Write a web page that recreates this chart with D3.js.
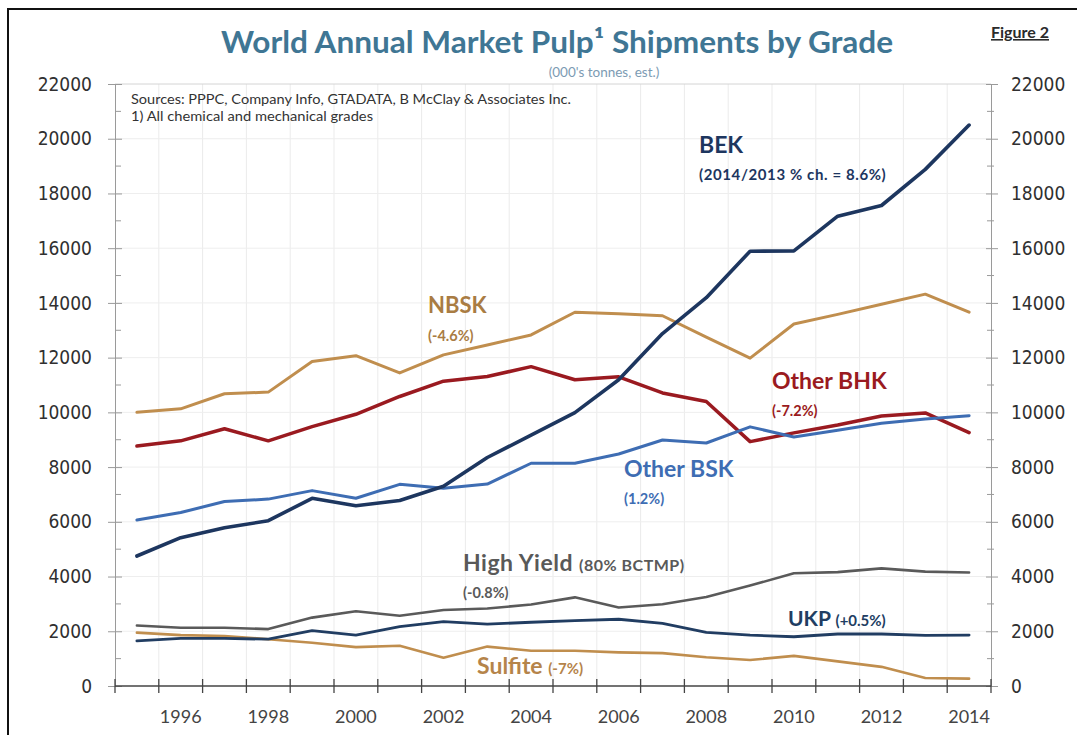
<!DOCTYPE html>
<html>
<head>
<meta charset="utf-8">
<script src="https://cdn.jsdelivr.net/npm/d3@7"></script>
<style>
  html, body { margin: 0; padding: 0; background: #fff; }
  svg { display: block; }
  .lbl { font-family: Lato, "Open Sans", sans-serif; font-weight: 700; }
</style>
</head>
<body>
<svg id="chart" width="1077" height="735"></svg>
<script>
// Shipments in thousands of tonnes, 1995-2014
const years = ["1995","1996","1997","1998","1999","2000","2001","2002","2003","2004",
               "2005","2006","2007","2008","2009","2010","2011","2012","2013","2014"];
const yearLabels = ["1996","1998","2000","2002","2004","2006","2008","2010","2012","2014"];
const yTicks = [0,2000,4000,6000,8000,10000,12000,14000,16000,18000,20000,22000];

const bek     = [4750,5420,5780,6040,6860,6590,6780,7300,8350,9170,9990,11190,12880,14190,15890,15900,17170,17560,18880,20500];
const nbsk    = [10000,10130,10680,10740,11860,12070,11440,12100,12460,12830,13660,13600,13530,12750,11980,13230,13580,13950,14320,13660];
const otherBHK= [8770,8960,9400,8960,9480,9930,10580,11140,11310,11670,11190,11300,10710,10400,8930,9250,9540,9870,9980,9260];
const otherBSK= [6070,6340,6740,6830,7140,6860,7370,7230,7380,8140,8140,8480,8990,8880,9470,9100,9350,9600,9760,9880];
const highYield=[2210,2130,2130,2080,2500,2730,2570,2780,2830,2980,3240,2870,2990,3250,3670,4120,4160,4300,4180,4147];
const ukp     = [1650,1740,1740,1710,2020,1860,2170,2350,2260,2330,2390,2440,2290,1960,1860,1800,1900,1900,1850,1860];
const sulfite = [1950,1860,1830,1710,1580,1420,1470,1030,1440,1290,1290,1230,1200,1050,950,1100,900,700,290,270];

const series = [
  { name: "NBSK",      values: nbsk,      color: "#c08e4e", width: 3 },
  { name: "Other BHK", values: otherBHK,  color: "#9a1a20", width: 3.5 },
  { name: "Other BSK", values: otherBSK,  color: "#3e6db3", width: 3 },
  { name: "High Yield",values: highYield, color: "#5a5a5a", width: 2.6 },
  { name: "Sulfite",   values: sulfite,   color: "#c08e4e", width: 2.6 },
  { name: "UKP",       values: ukp,       color: "#213d62", width: 2.8 },
  { name: "BEK",       values: bek,       color: "#1d365f", width: 3.6 }
];

const svg = d3.select("#chart");
const plotL = 115, plotR = 991, plotT = 84, plotB = 686;

const x = d3.scaleBand().domain(years).range([plotL, plotR]).padding(0);
const y = d3.scaleLinear().domain([0, 22000]).range([plotB, plotT]);
const cx = d => x(d) + x.bandwidth() / 2;

// outer frame
svg.append("rect").attr("x", 8).attr("y", 9).attr("width", 1100).attr("height", 760)
  .attr("fill", "none").attr("stroke", "#111").attr("stroke-width", 2);

// gridlines
const grid = svg.append("g");
years.slice(1).forEach(yr => {
  grid.append("line").attr("x1", x(yr)).attr("x2", x(yr)).attr("y1", plotT).attr("y2", plotB)
    .attr("stroke", "#ebebeb").attr("stroke-width", 1);
});
yTicks.slice(1).forEach(v => {
  grid.append("line").attr("x1", plotL).attr("x2", plotR).attr("y1", y(v)).attr("y2", y(v))
    .attr("stroke", v === 22000 ? "#d4d4d4" : "#eeeeee").attr("stroke-width", 1);
});

const numFont = '"DejaVu Sans Condensed", "DejaVu Sans", sans-serif';

// left value axis
const gL = svg.append("g").attr("transform", `translate(${plotL},0)`)
  .call(d3.axisLeft(y).tickValues(yTicks).tickSize(7).tickPadding(16).tickFormat(d3.format("d")));
gL.select(".domain").attr("stroke", "#9a9a9a");
gL.selectAll(".tick line").attr("x1", 7).attr("stroke", "#9a9a9a");
gL.selectAll(".tick text").attr("font-family", numFont).attr("font-size", 19).attr("fill", "#303030")
  .attr("font-stretch", "condensed");

// right value axis
const gR = svg.append("g").attr("transform", `translate(${plotR},0)`)
  .call(d3.axisRight(y).tickValues(yTicks).tickSize(7).tickPadding(13).tickFormat(d3.format("d")));
gR.select(".domain").attr("stroke", "#9a9a9a");
gR.selectAll(".tick line").attr("x1", -5).attr("stroke", "#9a9a9a");
gR.selectAll(".tick text").attr("font-family", numFont).attr("font-size", 19).attr("fill", "#303030")
  .attr("font-stretch", "condensed");

// minor ticks every 1000
const minors = d3.range(1000, 22000, 2000);
svg.append("g").selectAll("line").data(minors).join("line")
  .attr("x1", plotL).attr("x2", plotL + 6).attr("y1", d => y(d)).attr("y2", d => y(d))
  .attr("stroke", "#9a9a9a");
svg.append("g").selectAll("line").data(minors).join("line")
  .attr("x1", plotR - 4).attr("x2", plotR + 3).attr("y1", d => y(d)).attr("y2", d => y(d))
  .attr("stroke", "#9a9a9a");

// category axis
const gX = svg.append("g").attr("transform", `translate(0,${plotB})`)
  .call(d3.axisBottom(x).tickValues(yearLabels).tickSize(0).tickPadding(24));
gX.select(".domain").remove();
gX.selectAll(".tick text").attr("font-family", "Lato, sans-serif").attr("font-size", 18)
  .attr("fill", "#444");
svg.append("line").attr("x1", plotL).attr("x2", plotR).attr("y1", plotB).attr("y2", plotB)
  .attr("stroke", "#444").attr("stroke-width", 1.5);
const bounds = years.map(yr => x(yr)).concat([plotR]);
svg.append("g").selectAll("line").data(bounds).join("line")
  .attr("x1", d => d).attr("x2", d => d).attr("y1", plotB - 7).attr("y2", plotB + 7)
  .attr("stroke", "#444").attr("stroke-width", 1.3);

// series lines
const line = d3.line().x((d, i) => cx(years[i])).y(d => y(d));
svg.append("g").selectAll("path").data(series).join("path")
  .attr("d", s => line(s.values))
  .attr("fill", "none")
  .attr("stroke", s => s.color)
  .attr("stroke-width", s => s.width)
  .attr("stroke-linejoin", "round")
  .attr("stroke-linecap", "round");

// title block
svg.append("text").attr("x", 557).attr("y", 53).attr("text-anchor", "middle")
  .attr("class", "lbl").attr("font-size", 31).attr("fill", "#3f7694")
  .attr("textLength", 672).attr("lengthAdjust", "spacingAndGlyphs")
  .text("World Annual Market Pulp\u00B9 Shipments by Grade");
svg.append("text").attr("x", 604).attr("y", 77).attr("text-anchor", "middle")
  .attr("font-family", "Lato, sans-serif").attr("font-size", 13.5).attr("fill", "#7c9bb3")
  .text("(000's tonnes, est.)");
svg.append("text").attr("x", 1020).attr("y", 38).attr("text-anchor", "middle")
  .attr("class", "lbl").attr("font-size", 16).attr("fill", "#2b2b2b")
  .attr("text-decoration", "underline").text("Figure 2");

// notes
svg.append("text").attr("x", 131).attr("y", 104)
  .attr("font-family", "Lato, sans-serif").attr("font-size", 13).attr("fill", "#333")
  .attr("textLength", 440).attr("lengthAdjust", "spacingAndGlyphs")
  .text("Sources: PPPC, Company Info, GTADATA, B McClay & Associates Inc.");
svg.append("text").attr("x", 131).attr("y", 121)
  .attr("font-family", "Lato, sans-serif").attr("font-size", 13).attr("fill", "#333")
  .attr("textLength", 242).attr("lengthAdjust", "spacingAndGlyphs")
  .text("1) All chemical and mechanical grades");

// series labels
function label(xp, yp, main, mainSize, extra, extraSize, color) {
  const t = svg.append("text").attr("class", "lbl").attr("x", xp).attr("y", yp).attr("fill", color);
  t.append("tspan").attr("font-size", mainSize).text(main);
  if (extra) t.append("tspan").attr("font-size", extraSize).text(extra);
  return t;
}
label(699, 153, "BEK", 23, null, 0, "#1d365f");
label(699, 180, "(2014/2013 % ch. = 8.6%)", 15, null, 0, "#1d365f").attr("letter-spacing", 0.6);
label(428, 313, "NBSK", 22, null, 0, "#a97c43");
label(428, 341, "(-4.6%)", 14.5, null, 0, "#a97c43");
label(772, 389, "Other BHK", 23, null, 0, "#9a1a20");
label(772, 416, "(-7.2%)", 14.5, null, 0, "#9a1a20");
label(624, 477, "Other BSK", 23, null, 0, "#3e6db3");
label(624, 504, "(1.2%)", 14.5, null, 0, "#3e6db3");
label(463, 571, "High Yield ", 23, "(80% BCTMP)", 16, "#595959").attr("letter-spacing", 0.5);
label(463, 598, "(-0.8%)", 14.5, null, 0, "#595959");
label(788, 626, "UKP ", 21, "(+0.5%)", 15, "#213d62");
label(477, 674, "Sulfite ", 23, "(-7%)", 15, "#b5844a");
</script>
</body>
</html>
